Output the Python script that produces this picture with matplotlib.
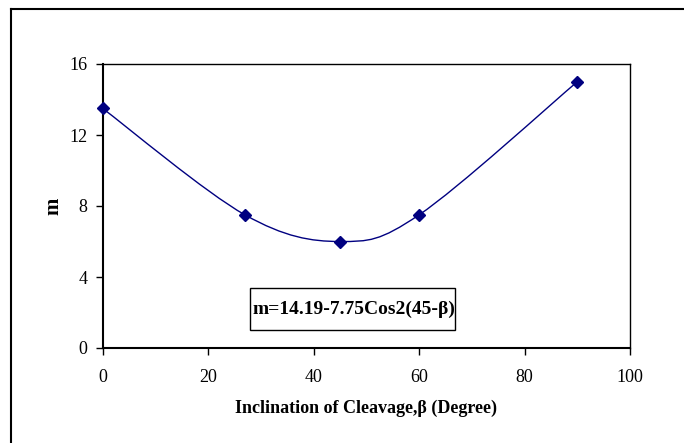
import matplotlib
matplotlib.use("Agg")
import matplotlib.pyplot as plt
from matplotlib.path import Path
from matplotlib.patches import PathPatch, Rectangle
from matplotlib.lines import Line2D
import numpy as np

# Data
beta = [0, 27, 45, 60, 90]
m_vals = [13.5, 7.5, 6.0, 7.5, 15.0]
x_ticks = [0, 20, 40, 60, 80, 100]
y_ticks = [0, 4, 8, 12, 16]
x_label = "Inclination of Cleavage,β (Degree)"
y_label = "m"
equation = "m=14.19-7.75Cos2(45-β)"

W, H = 684, 443
fig = plt.figure(figsize=(W / 100, H / 100), dpi=100)
plt.rcParams['font.family'] = ['Liberation Serif', 'DejaVu Serif']

L, R, T, B = 102.6, 630, 64, 348
ax = fig.add_axes([L / W, 1 - B / H, (R - L) / W, (B - T) / H])

# Smoothed line (Excel style cubic Bezier through points)
pts = np.column_stack([beta, m_vals]).astype(float)
n = len(pts)
verts = [tuple(pts[0])]
codes = [Path.MOVETO]
for i in range(n - 1):
    p0 = pts[i - 1] if i > 0 else pts[i]
    p1 = pts[i]
    p2 = pts[i + 1]
    p3 = pts[i + 2] if i + 2 < n else pts[i + 1]
    c1 = p1 + (p2 - p0) / 6.0
    c2 = p2 - (p3 - p1) / 6.0
    verts += [tuple(c1), tuple(c2), tuple(p2)]
    codes += [Path.CURVE4] * 3
ax.add_patch(PathPatch(Path(verts, codes), facecolor='none', edgecolor='#000080', lw=1.0))
ax.plot(beta, m_vals, linestyle='none', marker='D', markersize=6.5, color='#000080', clip_on=False, zorder=5)

ax.set_xlim(0, 100)
ax.set_ylim(0, 16)
ax.set_xticks(x_ticks)
ax.set_yticks(y_ticks)
ax.tick_params(axis='both', direction='out', length=5, width=1, labelsize=13, colors='black')
ax.tick_params(axis='x', pad=10)
ax.tick_params(axis='y', pad=6)
for s in ax.spines.values():
    s.set_linewidth(1.0)
ax.spines['left'].set_linewidth(1.5)
ax.spines['bottom'].set_linewidth(1.5)

ax.set_xlabel(x_label, fontsize=13, fontweight='bold', labelpad=10)
ax.set_ylabel(y_label, fontsize=15, fontweight='bold', labelpad=4)

# Equation box
ax.add_patch(Rectangle((0.2795, 0.0634), 0.668 - 0.2795, 0.211 - 0.0634, transform=ax.transAxes,
                       facecolor='white', edgecolor='black', lw=1.0, zorder=3))
ax.text(0.4757, 0.137, equation, transform=ax.transAxes, fontsize=14, fontweight='bold',
        ha='center', va='center', zorder=4)

# Outer chart border (left and top visible)
fig.add_artist(Line2D([11 / W, 11 / W], [0, 1 - 9 / H], transform=fig.transFigure, color='black', lw=1.5))
fig.add_artist(Line2D([11 / W, 1], [1 - 9 / H, 1 - 9 / H], transform=fig.transFigure, color='black', lw=1.5))

fig.savefig("out.png", dpi=100)
